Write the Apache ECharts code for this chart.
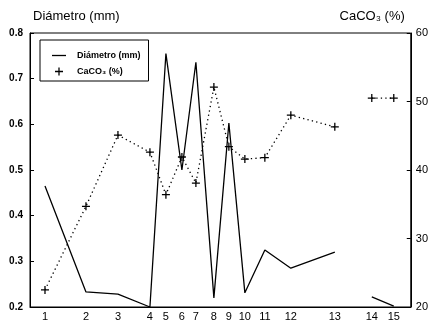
<!DOCTYPE html>
<html>
<head>
<meta charset="utf-8">
<script src="https://cdn.jsdelivr.net/npm/echarts@6/dist/echarts.min.js"></script>
<style>
html,body{margin:0;padding:0;background:#fff;}
#chart{width:431px;height:323px;}
</style>
</head>
<body>
<div id="chart"></div>
<script>
// Sample labels and their positions along the transect (arbitrary units)
const samples = ['1','2','3','4','5','6','7','8','9','10','11','12','13','14','15'];
const samplePos = [15, 56, 88, 120, 136, 152, 166, 184, 199, 215, 235, 261, 305, 342, 364];
// Diámetro (mm)
const diametro = [0.465, 0.233, 0.228, 0.200, 0.755, 0.500, 0.736, 0.220, 0.603, 0.231, 0.325, 0.285, 0.320, 0.222, 0.202];
// CaCO3 (%)
const caco3 = [22.5, 34.7, 45.1, 42.6, 36.4, 41.9, 38.1, 52.1, 43.4, 41.6, 41.8, 48.0, 46.3, 50.5, 50.5];
// the record is interrupted between sample 13 and 14
const breakAfter = 13;
const leftTicks = [0.2, 0.8, 0.1];
const rightTicks = [20, 60, 10];
const xRange = [0, 381];

const FONT = 'Liberation Sans';
const PLUS = 'path://M4.2,0h1.6v4.2h4.2v1.6h-4.2v4.2h-1.6v-4.2h-4.2v-1.6h4.2z';
const LINEICON = 'path://M0,0h14v1.3h-14z';

function pairs(vals, a, b) {
  const out = [];
  for (let i = a; i < b; i++) out.push([samplePos[i], vals[i]]);
  return out;
}

const chart = echarts.init(document.getElementById('chart'), null, {renderer: 'canvas'});
const dLine = {color: '#000', width: 1.3, type: 'solid'};
const cLine = {color: '#000', width: 1.3, type: [1.3, 3.2]};
chart.setOption({
  animation: false,
  backgroundColor: '#fff',
  grid: {left: 30, right: 20, top: 33, bottom: 16, show: true, borderColor: '#000', borderWidth: 1, backgroundColor: 'transparent'},
  legend: {
    left: 40, top: 40, orient: 'vertical',
    padding: [11, 8, 5, 12], itemGap: 7, itemWidth: 14, itemHeight: 8,
    borderColor: '#000', borderWidth: 1, borderRadius: 0,
    textStyle: {fontFamily: FONT, fontSize: 9, fontWeight: 'bold', color: '#000', padding: [0, 0, 0, 6]},
    data: [
      {name: 'Diámetro (mm)', icon: LINEICON, itemStyle: {color: '#000'}},
      {name: 'CaCO₃ (%)', icon: PLUS, itemStyle: {color: '#000'}}
    ]
  },
  xAxis: {
    type: 'value', min: xRange[0], max: xRange[1],
    axisLine: {show: true, lineStyle: {color: '#000', width: 1}},
    axisTick: {show: false},
    splitLine: {show: false},
    axisLabel: {
      customValues: samplePos, margin: 4,
      fontFamily: FONT, fontSize: 11, color: '#000',
      formatter: v => samples[samplePos.indexOf(v)]
    }
  },
  yAxis: [
    {
      type: 'value', position: 'left', min: leftTicks[0], max: leftTicks[1], interval: leftTicks[2],
      name: 'Diámetro (mm)', nameLocation: 'end', nameGap: 10,
      nameTextStyle: {fontFamily: FONT, fontSize: 13, color: '#000', align: 'left', padding: [0, 0, 0, 3]},
      axisLine: {show: true, lineStyle: {color: '#000', width: 1}},
      axisTick: {show: true, inside: true, length: 4, lineStyle: {color: '#000'}},
      splitLine: {show: false},
      axisLabel: {margin: 7, fontFamily: FONT, fontSize: 10, fontWeight: 'bold', color: '#000', formatter: v => v.toFixed(1)}
    },
    {
      type: 'value', position: 'right', min: rightTicks[0], max: rightTicks[1], interval: rightTicks[2],
      name: 'CaCO₃ (%)', nameLocation: 'end', nameGap: 10,
      nameTextStyle: {fontFamily: FONT, fontSize: 13, color: '#000', align: 'right', padding: [0, 6, 0, 0]},
      axisLine: {show: true, lineStyle: {color: '#000', width: 1}},
      axisTick: {show: true, inside: true, length: 4, lineStyle: {color: '#000'}},
      splitLine: {show: false},
      axisLabel: {margin: 5, fontFamily: FONT, fontSize: 11, color: '#000'}
    }
  ],
  series: [
    {name: 'Diámetro (mm)', type: 'line', yAxisIndex: 0, data: pairs(diametro, 0, breakAfter), showSymbol: false, symbol: 'none', lineStyle: dLine, itemStyle: {color: '#000'}},
    {name: 'Diámetro (mm)', type: 'line', yAxisIndex: 0, data: pairs(diametro, breakAfter, samples.length), showSymbol: false, symbol: 'none', lineStyle: dLine, itemStyle: {color: '#000'}},
    {name: 'CaCO₃ (%)', type: 'line', yAxisIndex: 1, data: pairs(caco3, 0, breakAfter), symbol: PLUS, symbolSize: 8, lineStyle: cLine, itemStyle: {color: '#000'}},
    {name: 'CaCO₃ (%)', type: 'line', yAxisIndex: 1, data: pairs(caco3, breakAfter, samples.length), symbol: PLUS, symbolSize: 8, lineStyle: cLine, itemStyle: {color: '#000'}}
  ]
});
</script>
</body>
</html>
